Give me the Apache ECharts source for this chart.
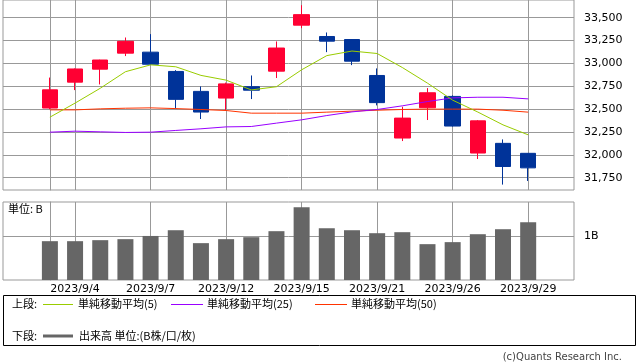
<!DOCTYPE html>
<html>
<head>
<meta charset="utf-8">
<script src="https://cdn.jsdelivr.net/npm/echarts@6/dist/echarts.min.js"></script>
<style>
html,body{margin:0;padding:0;background:#fff;}
#c{width:638px;height:362px;}
</style>
</head>
<body>
<div id="c"></div>
<script>
// ---- data ----
const dates = ['2023/9/1','2023/9/4','2023/9/5','2023/9/6','2023/9/7','2023/9/8','2023/9/11','2023/9/12','2023/9/13','2023/9/14','2023/9/15','2023/9/19','2023/9/20','2023/9/21','2023/9/22','2023/9/25','2023/9/26','2023/9/27','2023/9/28','2023/9/29'];
const open  = [32512,32795,32937,33112,33123,32912,32694,32621,32745,32915,33418,33294,33261,32868,32184,32515,32639,32020,32126,32017];
const close = [32711,32939,33037,33241,32991,32607,32468,32776,32707,33168,33533,33243,33024,32571,32402,32679,32315,32372,31873,31858];
const low   = [32500,32708,32770,33080,32985,32505,32392,32490,32610,32840,33385,33123,32981,32541,32151,32381,32310,31955,31675,31715];
const high  = [32845,32945,33040,33283,33320,32926,32748,32790,32868,33240,33636,33338,33265,32945,32526,32730,32650,32380,32169,32020];
const ma5   = [32412,32566,32728,32909,32984,32963,32869,32817,32710,32745,32930,33085,33135,33108,32955,32784,32598,32468,32328,32219];
const ma25  = [32248,32259,32252,32245,32248,32267,32285,32306,32310,32347,32383,32430,32470,32496,32536,32583,32623,32630,32630,32612];
const ma50  = [32492,32492,32503,32510,32514,32506,32496,32485,32456,32456,32456,32467,32478,32488,32496,32500,32500,32500,32488,32467];
const volume = [0.886,0.886,0.909,0.932,1.005,1.136,0.841,0.932,0.977,1.114,1.659,1.182,1.136,1.068,1.091,0.818,0.864,1.045,1.159,1.318];
const priceTicks = [31750,32000,32250,32500,32750,33000,33250,33500];
const volumeTicks = [1];
const dateTickIdx = [1,4,7,10,13,16,19];

// ---- chart ----
const XMIN = -1.863, XMAX = 20.82;
const GRID = '#999999';
const FONT = 'DejaVu Sans';
const JFONT = 'Noto Sans CJK JP';

const chart = echarts.init(document.getElementById('c'), null, {renderer:'canvas'});

function xAxisCfg(gi, showLabel){
  return {
    type:'value', gridIndex:gi, min:XMIN, max:XMAX,
    axisLine:{show:false},
    axisTick:{show:false, customValues:dateTickIdx},
    axisLabel:{show:showLabel, customValues:dateTickIdx, margin:4,
      formatter:v=>dates[Math.round(v)] || '',
      color:'#000', fontFamily:FONT, fontSize:11},
    splitLine:{show:true, lineStyle:{color:GRID, width:1}}
  };
}

const option = {
  animation:false,
  backgroundColor:'#fff',
  grid:[
    {left:3, right:64, top:0, height:190, show:true, borderColor:GRID, borderWidth:1, backgroundColor:'transparent'},
    {left:3, right:64, top:202, height:78, show:true, borderColor:GRID, borderWidth:1, backgroundColor:'transparent'}
  ],
  xAxis:[xAxisCfg(0,false), xAxisCfg(1,true)],
  yAxis:[
    {type:'value', gridIndex:0, position:'right', min:31616, max:33693,
     axisLine:{show:true, lineStyle:{color:GRID}},
     axisTick:{show:true, length:6, customValues:priceTicks, lineStyle:{color:GRID}},
     axisLabel:{customValues:priceTicks, margin:10, color:'#000', fontFamily:FONT, fontSize:11,
       formatter:v=>Number(v).toLocaleString('en-US')},
     splitLine:{show:true, lineStyle:{color:GRID}}},
    {type:'value', gridIndex:1, position:'right', min:0, max:1.78,
     axisLine:{show:true, lineStyle:{color:GRID}},
     axisTick:{show:true, length:6, customValues:volumeTicks, lineStyle:{color:GRID}},
     axisLabel:{customValues:volumeTicks, margin:10, color:'#000', fontFamily:FONT, fontSize:11,
       formatter:v=>v+'B'},
     splitLine:{show:true, lineStyle:{color:GRID}}}
  ],
  series:[
    {type:'candlestick', xAxisIndex:0, yAxisIndex:0, barWidth:16,
     encode:{x:0, y:[1,2,3,4]},
     data:dates.map((d,i)=>[i, open[i], close[i], low[i], high[i]]),
     itemStyle:{color:'#ff0033', color0:'#003399', borderColor:'#ff0033', borderColor0:'#003399', borderWidth:1}},
    {type:'line', xAxisIndex:0, yAxisIndex:0, symbol:'none', data:ma50.map((v,i)=>[i,v]),
     lineStyle:{color:'#ff3300', width:1}},
    {type:'line', xAxisIndex:0, yAxisIndex:0, symbol:'none', data:ma25.map((v,i)=>[i,v]),
     lineStyle:{color:'#9900ff', width:1}},
    {type:'line', xAxisIndex:0, yAxisIndex:0, symbol:'none', data:ma5.map((v,i)=>[i,v]),
     lineStyle:{color:'#99cc00', width:1}},
    {type:'bar', xAxisIndex:1, yAxisIndex:1, barWidth:16, data:volume.map((v,i)=>[i,v]),
     itemStyle:{color:'#666666'}}
  ],
  graphic:[
    {type:'text', left:8, top:203, style:{text:'単位: B', fill:'#000', font:'11px "'+JFONT+'"'}},
    {type:'rect', shape:{x:3.5, y:295.5, width:632, height:50}, style:{fill:'none', stroke:'#000', lineWidth:1}},
    {type:'text', x:12, y:304, style:{text:'上段:', fill:'#000', font:'11px "'+JFONT+'"', verticalAlign:'middle'}},
    {type:'line', shape:{x1:43, y1:304.5, x2:73, y2:304.5}, style:{stroke:'#99cc00', lineWidth:1}},
    {type:'text', x:78, y:304, style:{text:'単純移動平均(5)', fill:'#000', font:'11px "'+JFONT+'"', verticalAlign:'middle'}},
    {type:'line', shape:{x1:171, y1:304.5, x2:203, y2:304.5}, style:{stroke:'#9900ff', lineWidth:1}},
    {type:'text', x:207, y:304, style:{text:'単純移動平均(25)', fill:'#000', font:'11px "'+JFONT+'"', verticalAlign:'middle'}},
    {type:'line', shape:{x1:315, y1:304.5, x2:347, y2:304.5}, style:{stroke:'#ff3300', lineWidth:1}},
    {type:'text', x:351, y:304, style:{text:'単純移動平均(50)', fill:'#000', font:'11px "'+JFONT+'"', verticalAlign:'middle'}},
    {type:'text', x:12, y:336, style:{text:'下段:', fill:'#000', font:'11px "'+JFONT+'"', verticalAlign:'middle'}},
    {type:'line', shape:{x1:43, y1:336, x2:73, y2:336}, style:{stroke:'#666666', lineWidth:3}},
    {type:'text', x:79, y:336, style:{text:'出来高 単位:(B株/口/枚)', fill:'#000', font:'11px "'+JFONT+'"', verticalAlign:'middle'}},
    {type:'text', x:622, y:357, style:{text:'(c)Quants Research Inc.', fill:'#444', font:'10px "'+FONT+'"', align:'right', verticalAlign:'middle'}}
  ]
};
chart.setOption(option);
</script>
</body>
</html>
